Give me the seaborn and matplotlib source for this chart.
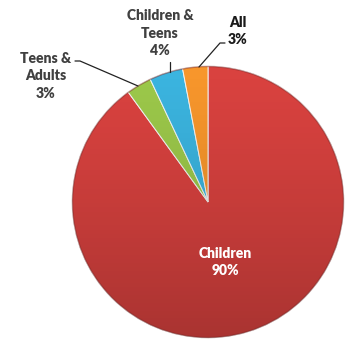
import numpy as np
import matplotlib
matplotlib.use("Agg")
import matplotlib.pyplot as plt
import matplotlib.patches as mpatches
import seaborn as sns

# data
labels = ["Children", "Teens &\nAdults", "Children &\nTeens", "All"]
shares = [90, 3, 4, 3]
colors = ["#D9423F", "#9CC84A", "#3BB4DF", "#F7962C"]

sns.set_theme(style="white")
plt.rcParams["font.family"] = ["Lato", "DejaVu Sans"]

W, H = 348, 341
fig = plt.figure(figsize=(W / 100, H / 100), dpi=100)
ax = fig.add_axes([0, 0, 1, 1])

def py(y):
    # pixel row -> data y
    return H - y

cx, cy, r = 208, py(202), 136
wedges, _ = ax.pie(shares, colors=colors, startangle=90, counterclock=False,
                   center=(cx, cy), radius=r, frame=True,
                   wedgeprops=dict(edgecolor="#f2f2f2", linewidth=0.7))
ax.set_xlim(0, W)
ax.set_ylim(0, H)
ax.set_aspect("equal")
ax.axis("off")

# soft vertical shading like the 3d look
grad = np.linspace(0, 1, 256).reshape(-1, 1)
shade = np.zeros((256, 1, 4))
shade[..., 3] = 0.22 * grad ** 1.3
img = ax.imshow(shade, extent=(cx - r, cx + r, cy - r, cy + r), origin="upper",
                aspect="auto", zorder=3)
img.set_clip_path(mpatches.Circle((cx, cy), r, transform=ax.transData))
ax.add_patch(mpatches.Circle((cx, cy), r - 0.5, fill=False, ec="#7a2220", lw=1.0, alpha=0.45, zorder=4))

txt = dict(ha="center", va="center", fontsize=10, fontweight="heavy", color="#404040",
           linespacing=1.45, zorder=5)
pct = [f"{s}%" for s in shares]
ax.text(225, py(262), f"{labels[0]}\n{pct[0]}", **{**txt, "color": "white"})
ax.text(46, py(76), f"{labels[1]}\n{pct[1]}", **txt)
ax.text(160, py(33), f"{labels[2]}\n{pct[2]}", **txt)
ax.text(238, py(31), f"{labels[3]}\n{pct[3]}", **{**txt, "color": "#1a1a1a"})

# leader lines
lk = dict(color="#222222", lw=0.9, zorder=5)
ax.plot([75, 80, 138], [py(61), py(61), py(86)], **lk)
ax.plot([170, 170], [py(62), py(72)], **lk)
ax.plot([225, 220, 199], [py(43), py(43), py(67)], **lk)

fig.savefig("out.png", dpi=100)
